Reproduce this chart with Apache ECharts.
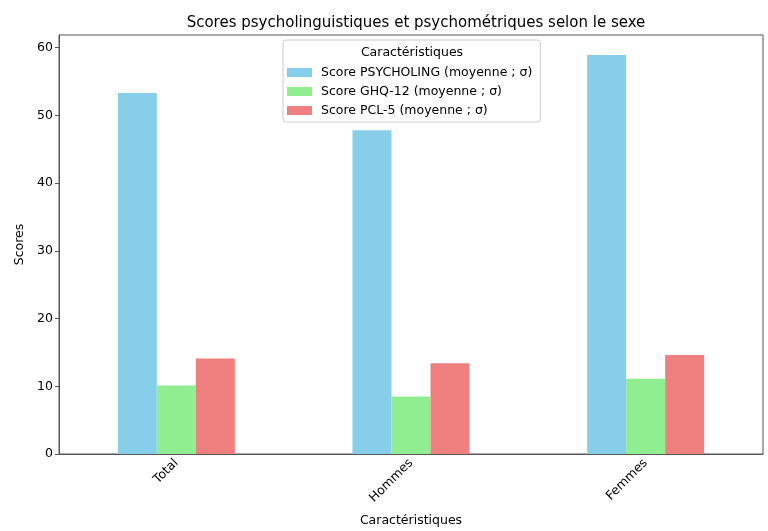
<!DOCTYPE html>
<html>
<head>
<meta charset="utf-8">
<script src="https://cdn.jsdelivr.net/npm/echarts@6/dist/echarts.min.js"></script>
<style>html,body{margin:0;padding:0;background:#fff}#c{width:768px;height:531px}</style>
</head>
<body>
<div id="c"></div>
<script>
const categories = ['Total', 'Hommes', 'Femmes'];
const seriesNames = ['Score PSYCHOLING (moyenne ; σ)', 'Score GHQ-12 (moyenne ; σ)', 'Score PCL-5 (moyenne ; σ)'];
const psycholing = [53.3, 47.8, 58.9];
const ghq12 = [10.1, 8.5, 11.1];
const pcl5 = [14.1, 13.4, 14.6];
const yTicks = [0, 10, 20, 30, 40, 50, 60];
const colors = ['#87CEEB', '#90EE90', '#F08080'];
const font = 'DejaVu Sans';

const chart = echarts.init(document.getElementById('c'), null, {renderer: 'canvas'});
const values = [psycholing, ghq12, pcl5];
chart.setOption({
  animation: false,
  backgroundColor: '#fff',
  textStyle: {fontFamily: font},
  title: {
    text: 'Scores psycholinguistiques et psychométriques selon le sexe',
    left: 411, top: 11, textAlign: 'center',
    textStyle: {fontFamily: font, fontSize: 15, fontWeight: 'normal', color: '#000'}
  },
  grid: {left: 59, right: 5, top: 35, bottom: 77, show: true, borderColor: '#555', borderWidth: 1,
         containLabel: false, outerBoundsMode: 'none'},
  legend: {
    orient: 'vertical', left: 283, top: 40,
    padding: [26, 8, 5, 4], itemGap: 6,
    itemWidth: 25, itemHeight: 9,
    borderColor: '#ccc', borderWidth: 1, borderRadius: 3,
    backgroundColor: 'rgba(255,255,255,0.8)',
    icon: 'rect',
    textStyle: {fontFamily: font, fontSize: 12.5, color: '#000', padding: [0, 0, 0, 4]},
    data: seriesNames
  },
  graphic: [{
    type: 'text', z: 100, x: 412, y: 46,
    style: {text: 'Caractéristiques', textAlign: 'center', fontFamily: font, fontSize: 12.5, fill: '#000'}
  }],
  xAxis: {
    type: 'category', data: categories,
    name: 'Caractéristiques', nameLocation: 'middle', nameGap: 60,
    nameTextStyle: {fontFamily: font, fontSize: 12.5, color: '#000'},
    axisLine: {lineStyle: {color: '#555'}},
    axisTick: {alignWithLabel: true, length: 4, lineStyle: {color: '#555'}},
    axisLabel: {rotate: 45, fontFamily: font, fontSize: 12.5, color: '#000', margin: 7}
  },
  yAxis: {
    type: 'value', min: 0, max: 61.85, interval: 10,
    name: 'Scores', nameLocation: 'middle', nameGap: 31,
    nameTextStyle: {fontFamily: font, fontSize: 12.5, color: '#000'},
    splitLine: {show: false},
    axisLine: {show: true, lineStyle: {color: '#555'}},
    axisTick: {show: true, length: 4, lineStyle: {color: '#555'}, customValues: yTicks},
    axisLabel: {fontFamily: font, fontSize: 12.5, color: '#000', margin: 6, customValues: yTicks}
  },
  series: seriesNames.map((n, i) => ({
    name: n, type: 'bar', data: values[i],
    barWidth: 39, barGap: '0%', barCategoryGap: '50%',
    itemStyle: {color: colors[i]}
  }))
});
</script>
</body>
</html>
